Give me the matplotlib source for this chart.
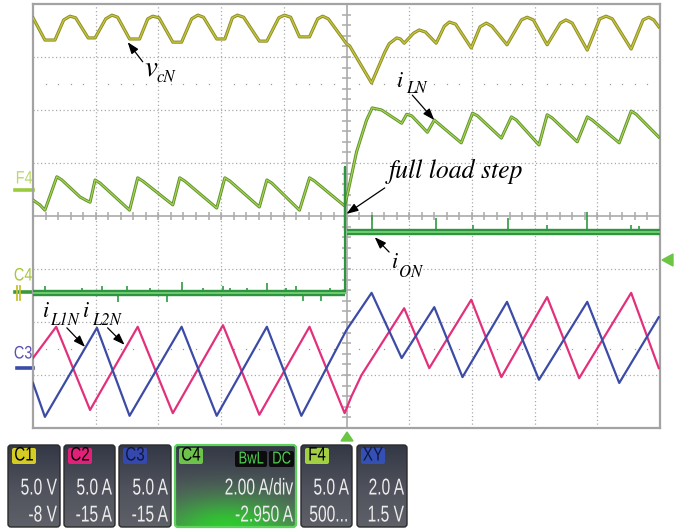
"""Oscilloscope capture: load step on the N-phase of a four-leg converter."""
import numpy as np
import matplotlib

matplotlib.use("Agg")
import matplotlib.pyplot as plt
from matplotlib.patches import FancyBboxPatch, Polygon
from matplotlib.patheffects import AbstractPathEffect
from matplotlib.transforms import Affine2D

# ---- traces: time and level in graticule divisions ----
# C1  v_cN
c1_t = [0.00, 0.19, 0.35, 0.49, 0.59, 0.68, 0.88, 0.99, 1.16, 1.26, 1.35, 1.54, 1.70,
        1.83, 1.91, 2.01, 2.23, 2.37, 2.53, 2.63, 2.72, 2.93, 3.06, 3.18, 3.26, 3.36,
        3.61, 3.73, 3.92, 4.01, 4.11, 4.25, 4.41, 4.54, 4.62, 4.71, 5.00,
        5.05, 5.40, 5.61, 5.68, 5.80, 5.86, 5.92, 6.07, 6.16, 6.26, 6.43, 6.56, 6.64,
        6.74, 6.99, 7.13, 7.23, 7.32, 7.56, 7.79, 7.88, 7.98, 8.20, 8.41, 8.50, 8.60,
        8.84, 9.04, 9.14, 9.24, 9.54, 9.73, 9.82, 9.90, 9.98]
c1_v = [3.74, 3.32, 3.32, 3.70, 3.77, 3.74, 3.36, 3.36, 3.72, 3.79, 3.75, 3.34, 3.34,
        3.72, 3.77, 3.74, 3.28, 3.28, 3.72, 3.79, 3.75, 3.34, 3.34, 3.74, 3.79, 3.75,
        3.30, 3.30, 3.74, 3.79, 3.75, 3.38, 3.38, 3.72, 3.77, 3.72, 3.25,
        3.21, 2.51, 3.09, 3.25, 3.36, 3.34, 3.26, 3.45, 3.51, 3.47, 3.26, 3.58, 3.66,
        3.62, 3.17, 3.57, 3.64, 3.58, 3.23, 3.70, 3.75, 3.70, 3.23, 3.64, 3.70, 3.64,
        3.13, 3.72, 3.77, 3.72, 3.15, 3.70, 3.75, 3.70, 3.57]
# F4  i_LN
f4_t = [0.00, 0.11, 0.19, 0.38, 0.46, 0.75, 0.84, 0.91, 0.99, 1.07, 1.54, 1.67, 1.75,
        2.23, 2.34, 2.42, 2.93, 3.06, 3.14, 3.61, 3.73, 3.81, 4.25, 4.41, 4.49, 4.97,
        5.03, 5.16, 5.32, 5.41, 5.56, 5.88, 5.96, 6.04, 6.29, 6.40, 6.83, 7.01, 7.09,
        7.47, 7.63, 7.71, 8.07, 8.20, 8.28, 8.68, 8.84, 8.92, 9.35, 9.54, 9.62, 9.98]
f4_v = [0.30, 0.21, 0.11, 0.74, 0.68, 0.36, 0.30, 0.26, 0.68, 0.62, 0.11, 0.72, 0.66,
        0.21, 0.72, 0.66, 0.15, 0.72, 0.66, 0.17, 0.68, 0.62, 0.11, 0.72, 0.66, 0.19,
        0.49, 1.21, 1.81, 2.04, 2.00, 1.75, 1.92, 1.89, 1.58, 1.81, 1.38, 1.94, 1.89,
        1.47, 1.87, 1.81, 1.34, 1.91, 1.85, 1.40, 1.87, 1.81, 1.38, 1.98, 1.92, 1.49]
# C4  i_ON: level before / after the step, the step edge, and the spikes
c4_step_t = 4.98
c4_before = -1.45
c4_after = -0.30
c4_edge_v = [-1.45, 0.92, -0.25]
c4_spike_t = [0.19, 0.78, 1.10, 1.35, 1.50, 1.86, 2.13, 2.37, 2.71, 3.03, 3.14, 3.41, 3.74,
              4.04, 4.20, 4.30, 4.60, 4.73, 5.41, 6.42, 7.01, 7.58, 8.20, 8.84, 9.54, 9.67]
c4_spike_v = [-1.33, -1.35, -1.33, -1.62, -1.33, -1.35, -1.62, -1.25, -1.35, -1.33, -1.35,
              -1.35, -1.27, -1.35, -1.33, -1.60, -1.60, -1.35, 0.02, -0.04, -0.17, -0.04,
              -0.17, 0.08, -0.17, -0.19]
# C2  i_L2N
c2_t = [0.00, 0.37, 0.91, 1.67, 2.23, 3.03, 3.61, 4.41, 4.97, 5.08, 5.24, 5.92, 6.32,
        6.99, 7.47, 8.20, 8.71, 9.54, 9.98]
c2_v = [-2.68, -2.09, -3.66, -2.09, -3.72, -2.06, -3.75, -2.09, -3.72, -3.40, -3.00,
        -1.74, -2.87, -1.58, -3.04, -1.53, -3.06, -1.45, -2.87]
# C3  i_L1N
c3_t = [0.00, 0.19, 1.02, 1.54, 2.37, 2.93, 3.73, 4.28, 5.00, 5.40, 5.88, 6.40, 6.85,
        7.56, 8.07, 8.84, 9.35, 9.98]
c3_v = [-3.15, -3.79, -2.11, -3.77, -2.09, -3.77, -2.09, -3.77, -2.15, -1.45, -2.68,
        -1.72, -3.04, -1.62, -3.09, -1.62, -3.15, -1.91]

# channel descriptor boxes under the screen
panel_names = ["C1", "C2", "C3", "C4", "F4", "XY"]
panel_line1 = ["5.0 V", "5.0 A", "5.0 A", "2.00 A/div", "5.0 A", "2.0 A"]
panel_line2 = ["-8 V", "-15 A", "-15 A", "-2.950 A", "500...", "1.5 V"]

W, H = 689, 529
plt.rcParams["mathtext.fontset"] = "stix"
SANS = "Liberation Sans"


class Squeeze(AbstractPathEffect):
    """Draw text horizontally condensed, like the scope's narrow UI font."""

    def __init__(self, sx=0.8, anchor="right"):
        super().__init__()
        self.sx, self.anchor = sx, anchor

    def draw_path(self, renderer, gc, tpath, affine, rgbFace=None):
        ext = tpath.get_extents()
        ref = {"left": ext.x0, "center": 0.5 * (ext.x0 + ext.x1), "right": ext.x1}[self.anchor]
        sq = Affine2D().translate(-ref, 0).scale(self.sx, 1).translate(ref, 0)
        renderer.draw_path(gc, tpath, sq + affine, rgbFace)


fig = plt.figure(figsize=(W / 100, H / 100), dpi=100)
fig.patch.set_facecolor("white")
ui = fig.add_axes([0, 0, 1, 1], zorder=0)
ui.set_xlim(0, W)
ui.set_ylim(H, 0)
ui.axis("off")


def narrow(x, y, s, size, color, ha="right", sx=0.68, z=5):
    ui.text(x, y, s, fontsize=size, color=color, ha=ha, va="center", family=SANS,
            zorder=z, path_effects=[Squeeze(sx, ha)])


# screen: x 33..660 px, y 4..428 px  -> 10 x 8 divisions
ax = fig.add_axes([33 / W, 1 - 428 / H, 627 / W, 424 / H], zorder=2)
ax.set_xlim(0, 10)
ax.set_ylim(-4, 4)
ax.set_xticks([])
ax.set_yticks([])
ax.patch.set_alpha(0)
for sp in ax.spines.values():
    sp.set_color("#a3a3a3")
    sp.set_linewidth(1.6)

grid = "#aaaaaa"
for x in range(1, 10):
    if x != 5:
        ax.axvline(x, color=grid, lw=0.9, ls=(0, (1, 2)), zorder=1)
for y in range(-3, 4):
    if y != 0:
        ax.axhline(y, color=grid, lw=0.9, ls=(0, (1, 2)), zorder=1)
ax.axvline(5, color=grid, lw=1.2, zorder=1)
ax.axhline(0, color=grid, lw=1.2, zorder=1)
minor_x = np.arange(0.2, 10, 0.2)
minor_y = np.arange(-3.8, 4, 0.2)
ax.vlines(minor_x, -0.08, 0.08, color=grid, lw=1.1, zorder=1)
ax.hlines(minor_y, 4.935, 5.065, color=grid, lw=1.1, zorder=1)
sparse = [x for x in minor_x if abs(x - round(x)) > 0.05]
for yy in (2.5, -2.5):
    ax.plot(sparse, [yy] * len(sparse), ls="none", marker="s", ms=0.9,
            mew=0, color="#9c9c9c", zorder=1)

# traces
ax.plot(c1_t, c1_v, color="#8e8e2e", lw=2.3, zorder=3, solid_joinstyle="round")
ax.plot(c1_t, c1_v, color="#d2d23c", lw=0.9, zorder=3, alpha=0.85)
ax.plot(f4_t, f4_v, color="#5f8f32", lw=2.2, zorder=3, solid_joinstyle="round")
ax.plot(f4_t, f4_v, color="#a6d64a", lw=0.9, zorder=3)
c4_base = [c4_before if t < c4_step_t else c4_after for t in c4_spike_t]
ax.vlines(c4_spike_t, c4_base, c4_spike_v, color="#2e9a40", lw=1.2, zorder=4)
ax.plot([c4_step_t] * 3, c4_edge_v, color="#2e9440", lw=1.6, zorder=4)
for xa, xb, lev in ((0, c4_step_t, c4_before), (c4_step_t + 0.02, 10, c4_after)):
    ax.plot([xa, xb], [lev, lev], color="#2e9440", lw=4.6, zorder=4,
            solid_capstyle="butt")
    ax.plot([xa, xb], [lev, lev], color="#70cc70", lw=1.4, zorder=4)
ax.plot(c2_t, c2_v, color="#e2307c", lw=1.6, zorder=5)
ax.plot(c3_t, c3_v, color="#3b4ba6", lw=1.6, zorder=5)

# annotations: (main, sub, main size, anchor, sub offset px, arrow tail, arrow tip)
serif = dict(family="STIXGeneral", style="italic", color="black")
arrow = dict(arrowstyle="-|>,head_length=0.5,head_width=0.18", color="black",
             lw=0.9, shrinkA=0, shrinkB=0, mutation_scale=14)
labels = [
    ("v", "cN", 21, (1.78, 2.66), (12, -7), (1.75, 2.91), (1.51, 3.28)),
    ("i", "LN", 16, (5.81, 2.43), (9, -6), (6.05, 2.28), (6.40, 1.81)),
    ("i", "ON", 16, (5.73, -0.98), (7, -9), (5.68, -0.68), (5.45, -0.40)),
    ("i", "L1N", 16, (0.16, -1.91), (7, -8), (0.54, -2.11), (0.83, -2.47)),
    ("i", "L2N", 16, (0.80, -1.91), (9, -8), (1.19, -2.11), (1.46, -2.43)),
]
for main, sub, size, pos, off, tail, tip in labels:
    ax.text(*pos, main, fontsize=size, ha="left", va="baseline", zorder=6, **serif)
    ax.annotate(sub, pos, xytext=off, textcoords="offset pixels", fontsize=12,
                ha="left", va="baseline", zorder=6, **serif)
    ax.annotate("", xy=tip, xytext=tail, zorder=6, arrowprops=arrow)
ax.text(5.68, 0.72, "full load step", fontsize=18.5, ha="left", va="baseline",
        zorder=6, **serif)
ax.annotate("", xy=(5.00, 0.04), xytext=(5.61, 0.53), zorder=6, arrowprops=arrow)

# channel markers left of the screen
narrow(24, 179, "F4", 13, "#bcd964", ha="center", sx=0.8)
ui.plot([15, 33], [190, 190], color="#9acb3e", lw=2.6)
narrow(23, 276, "C4", 13, "#a9c43e", ha="center", sx=0.8)
ui.plot([15, 33], [292, 292], color="#3a9a3a", lw=2.6)
ui.plot([17, 17], [286, 300], color="#c8c030", lw=1.3)
ui.plot([20, 20], [286, 300], color="#c8c030", lw=1.3)
narrow(23, 354, "C3", 13, "#5a52b4", ha="center", sx=0.8)
ui.plot([17, 33], [368, 368], color="#3b4ba6", lw=2.6)
ui.add_patch(Polygon([(662, 260), (673, 254), (673, 266)], color="#6cc644"))
ui.add_patch(Polygon([(347, 432), (341, 441), (353, 441)], color="#6cc644"))

# descriptor boxes
box_x = [(8, 60), (64, 115), (119, 171), (175, 296), (301, 352), (357, 407)]
badge_fc = ["#d4cc22", "#e2207a", "#3448ae", "#6cc24a", "#a2d042", "#3450b4"]
badge_tc = ["black", "black", "#101840", "black", "black", "#101840"]
y0, y1 = 445, 527
yy = np.linspace(0, 1, 80)[:, None]
top, mid, bot = (np.array([0.20, 0.22, 0.27]), np.array([0.31, 0.32, 0.36]),
                 np.array([0.37, 0.38, 0.41]))
shade = np.where(yy < 0.52, top + (mid - top) * (yy / 0.52),
                 mid + (bot - mid) * ((yy - 0.52) / 0.48))
for i, (xa, xb) in enumerate(box_x):
    is_c4 = panel_names[i] == "C4"
    patch = FancyBboxPatch((xa, y0), xb - xa, y1 - y0,
                           boxstyle="round,pad=0,rounding_size=3",
                           fc="none", ec="#5cd25c" if is_c4 else "#2a2a2a",
                           lw=1.6 if is_c4 else 1.0, zorder=3)
    ui.add_patch(patch)
    img = np.repeat(shade[:, None, :], 40, axis=1)
    if is_c4:
        gx, gy = np.meshgrid(np.linspace(xa, xb, 120), np.linspace(y0, y1, 80))
        w = np.exp(-((gx - 228) / 70) ** 2 - ((gy - 530) / 32) ** 2)[..., None]
        base = np.repeat(shade[:, None, :], 120, axis=1)
        img = base * (1 - w) + np.array([0.18, 0.80, 0.18]) * w
    im = ui.imshow(img, extent=(xa, xb, y1, y0), aspect="auto", zorder=2,
                   interpolation="bilinear")
    im.set_clip_path(patch)
    bw = 24
    ui.add_patch(FancyBboxPatch((xa + 4, y0 + 3), bw, 16,
                                boxstyle="round,pad=0,rounding_size=2",
                                fc=badge_fc[i], ec="none", zorder=4))
    narrow(xa + 4 + bw / 2, y0 + 11, panel_names[i], 14, badge_tc[i], ha="center",
           sx=0.78)
    narrow(xb - 3, 488, panel_line1[i], 16.5, "#ececec")
    narrow(xb - 3, 515, panel_line2[i], 16.5, "#ececec")
    if is_c4:
        for (ba, bb), tag in (((235, 267), "BwL"), ((269, 294), "DC")):
            ui.add_patch(FancyBboxPatch((ba, y0 + 6), bb - ba, 16,
                                        boxstyle="round,pad=0,rounding_size=2",
                                        fc="#0c0c0c", ec="none", zorder=4))
            narrow((ba + bb) / 2, y0 + 14, tag, 12.5, "#4ed04e", ha="center", sx=0.75)

fig.savefig("out.png", dpi=100, facecolor="white")
